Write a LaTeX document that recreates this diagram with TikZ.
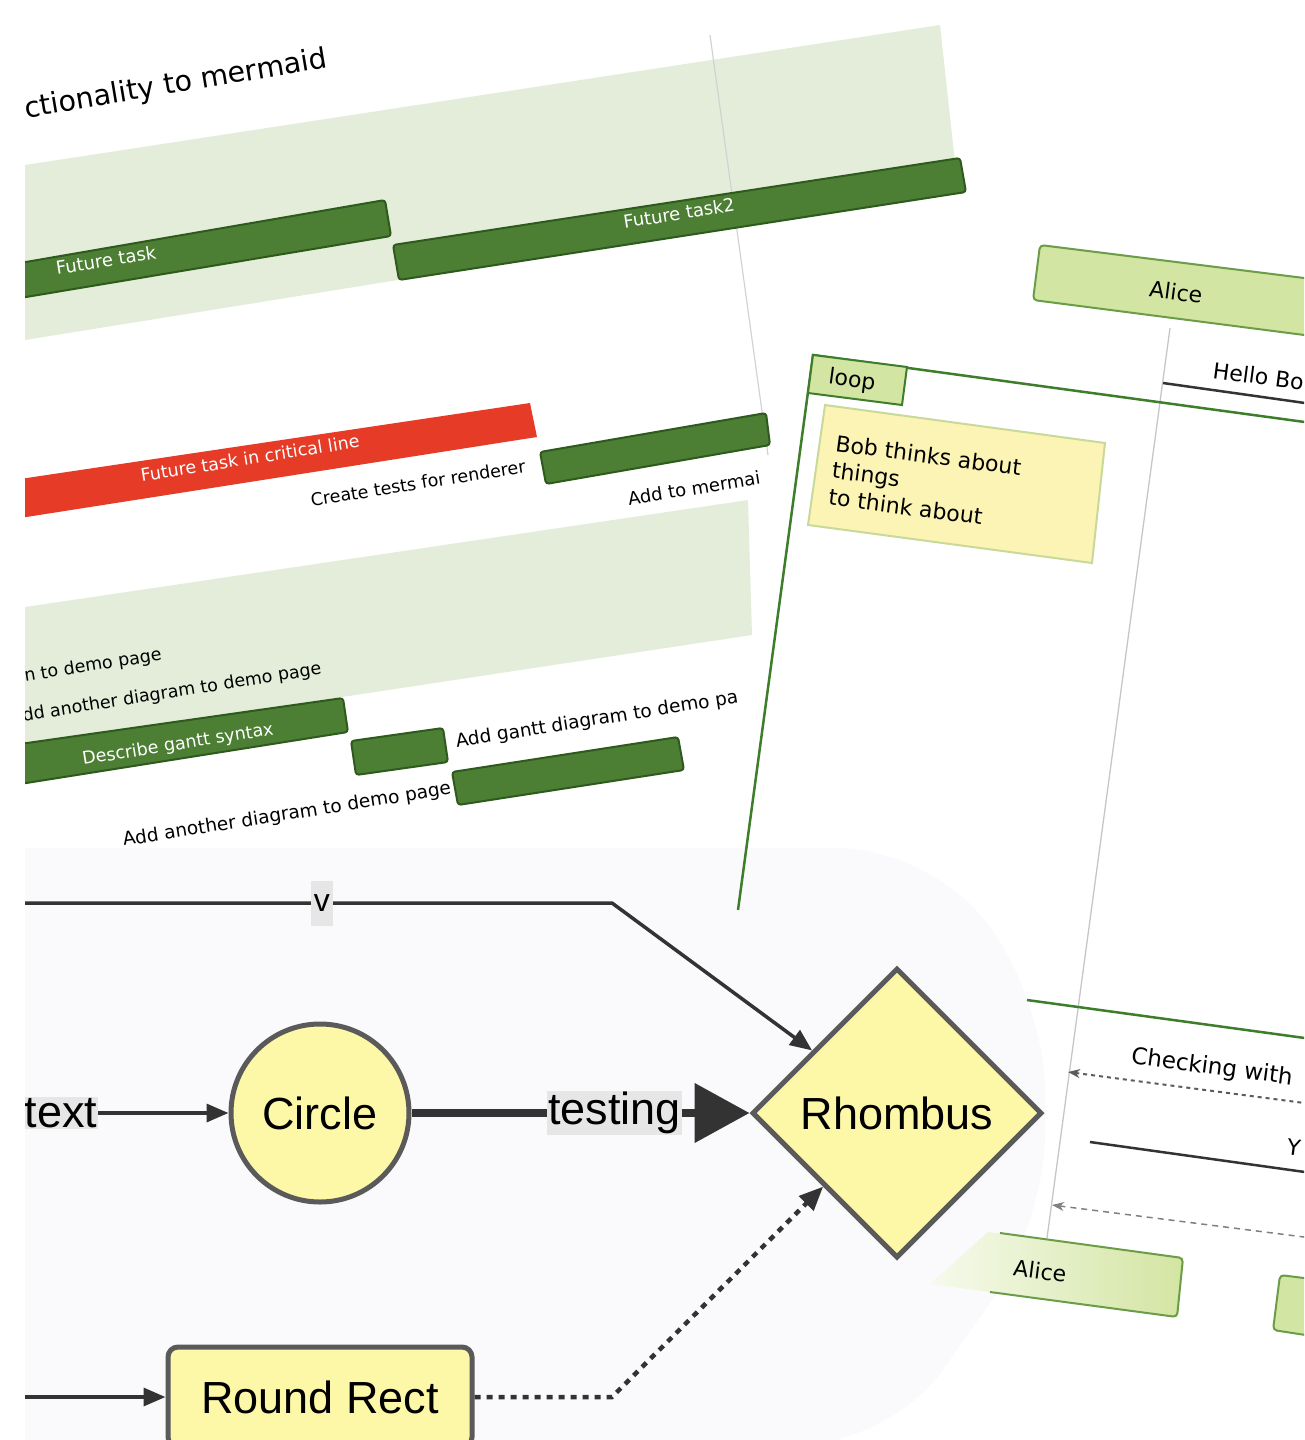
\documentclass[tikz,border=0pt]{standalone}
\usepackage{fontspec}
\setmainfont{DejaVu Sans}
\newfontfamily\fcfont{Liberation Sans}
\usetikzlibrary{arrows.meta,shapes.geometric}
\definecolor{bandgreen}{HTML}{E3EDD9}
\definecolor{bargreen}{HTML}{4C7E34}
\definecolor{barborder}{HTML}{2E5A1E}
\definecolor{critred}{HTML}{E63B26}
\definecolor{actorfill}{HTML}{D3E5A2}
\definecolor{actorborder}{HTML}{6B9C47}
\definecolor{notefill}{HTML}{FBF4B4}
\definecolor{noteborder}{HTML}{C8D99A}
\definecolor{loopgreen}{HTML}{3D7D2B}
\definecolor{fcyellow}{HTML}{FDF7A8}
\definecolor{fcborder}{HTML}{5A5A5A}
\definecolor{lblgrey}{HTML}{E6E6E6}
\definecolor{fcbg}{HTML}{FAFAFC}
\definecolor{edgedark}{HTML}{333333}
\begin{document}
\begin{tikzpicture}[x=1pt,y=-1pt,
  gtxt/.style={font=\fontsize{17.5}{20}\selectfont, rotate=9, inner sep=0pt},
  gwtxt/.style={gtxt, text=white},
  gbar/.style={fill=bargreen, draw=barborder, line width=2pt, rounded corners=3pt},
  stxt/.style={font=\fontsize{22}{27}\selectfont, rotate=-7.5, inner sep=0pt},
  actorbox/.style={fill=actorfill, draw=actorborder, line width=2pt, rounded corners=4pt},
  fcnode/.style={draw=fcborder, line width=5pt, fill=fcyellow, text=black,
    font=\fcfont\fontsize{45}{50}\selectfont},
  lbl/.style={fill=lblgrey, text=black, inner sep=1pt, font=\fcfont\fontsize{45}{50}\selectfont},
  fcedge/.style={draw=edgedark, line width=3.5pt, -{Triangle[length=22pt,width=18pt]}},
  fcdotted/.style={draw=edgedark, line width=4.5pt, dash pattern=on 6pt off 6pt,
    -{Triangle[length=24pt,width=20pt]}},
  seqarrow/.style={draw=edgedark!80, line width=2pt, {Stealth[length=12pt,width=9pt]}-}
]
\useasboundingbox (0,0) rectangle (1304,1440);
\clip (25,0) rectangle (1304,1440);

% ---------------- Gantt panel ----------------
\node[font=\fontsize{28.5}{32}\selectfont, rotate=9.5, inner sep=0pt] (title) at (176,85) {ctionality to mermaid};
\fill[bandgreen] (25,165) -- (940,25) -- (958,190) -- (25,340) -- cycle;
\draw[gray!35, line width=1.2pt] (710,35) -- (768,455);
\draw[gbar] (20,263) -- (385,200) -- (391,236) -- (20,298) -- cycle;
\node[gwtxt, font=\fontsize{18}{20}\selectfont] (ft1) at (106,260) {Future task};
\draw[gbar] (393,245) -- (960,158) -- (966,192) -- (399,280) -- cycle;
\node[gwtxt, font=\fontsize{18}{20}\selectfont] (ft2) at (679,213) {Future task2};

\fill[critred] (20,479) -- (530,403) -- (537,437) -- (20,518) -- cycle;
\node[gwtxt, font=\fontsize{17.5}{20}\selectfont] (crit) at (250,458) {Future task in critical line};
\node[gtxt] (ctr) at (418,483) {Create tests for renderer};
\draw[gbar] (540,452) -- (766,413) -- (770,445) -- (546,484) -- cycle;
\node[gtxt, font=\fontsize{18}{20}\selectfont] (atm) at (694,488) {Add to mermai};

\fill[bandgreen] (25,607) -- (748,500) -- (752,635) -- (25,745) -- cycle;
\node[gtxt] (tdp) at (93,666) {n to demo page};
\node[gtxt] (aad) at (172,693) {dd another diagram to demo page};
\draw[gbar] (20,744) -- (343,698) -- (348,732) -- (20,784) -- cycle;
\node[gwtxt] (dgs) at (178,745) {Describe gantt syntax};
\draw[gbar] (351,741) -- (443,728) -- (448,762) -- (356,775) -- cycle;
\node[gtxt, font=\fontsize{18.5}{20}\selectfont] (agd) at (597,720) {Add gantt diagram to demo pa};
\draw[gbar] (452,772) -- (678,737) -- (684,770) -- (458,805) -- cycle;
\node[gtxt, font=\fontsize{18.5}{20}\selectfont] (aad2) at (287,815) {Add another diagram to demo page};

% ---------------- Flowchart background ----------------
\fill[fcbg, rounded corners=90pt] (-200,848) -- (930,848) -- (1045,1000) -- (1045,1225) -- (890,1445) -- (-200,1445) -- cycle;

% ---------------- Sequence panel ----------------
\draw[actorbox] (1040,245) -- (1312,279) -- (1312,336) -- (1033,300) -- cycle;
\node[stxt] (aliceT) at (1176,292) {Alice};
\coordinate (lifeTop) at (1170,328);
\coordinate (lifeBot) at (1047,1238);
\draw[gray!45, line width=1.3pt] (lifeTop) -- (lifeBot);

\coordinate (loopBL) at (738,910);
\coordinate (loopTL) at (813,355);
\coordinate (loopTR) at (1312,423);
\draw[loopgreen, line width=2.5pt] (loopBL) -- (loopTL) -- (loopTR);
\draw[fill=actorfill, draw=loopgreen, line width=2pt] (813,355) -- (907,367) -- (902,405) -- (808,393) -- cycle;
\node[stxt] (loopl) at (852,381) {loop};
\draw[fill=notefill, draw=noteborder, line width=2pt] (825,405) -- (1105,443) -- (1092,563) -- (808,525) -- cycle;
\node[stxt, align=left] (note) at (925,482) {Bob thinks about\\things\\to think about};

\node[stxt, anchor=west] (hello) at (1213,370) {Hello Bo};
\coordinate (h1) at (1163,383);
\coordinate (h2) at (1312,404);
\draw[edgedark, line width=2.5pt] (h1) -- (h2);

\coordinate (lb1) at (1027,1000);
\coordinate (lb2) at (1312,1039);
\draw[loopgreen, line width=2.5pt] (lb1) -- (lb2);
\node[stxt, font=\fontsize{23}{27}\selectfont] (check) at (1212,1068) {Checking with};
\coordinate (c1) at (1068,1072);
\coordinate (c2) at (1312,1104);
\draw[seqarrow, dash pattern=on 4pt off 4pt] (c1) -- (c2);
\coordinate (y1) at (1090,1142);
\coordinate (y2) at (1312,1173);
\draw[edgedark, line width=2.5pt] (y1) -- (y2);
\node[stxt, anchor=west] (ytxt) at (1287,1147) {Y};
\coordinate (d1) at (1052,1205);
\coordinate (d2) at (1312,1238);
\draw[seqarrow, draw=gray, line width=1.5pt, dash pattern=on 6pt off 5pt] (d1) -- (d2);

\path[left color=actorfill!20, right color=actorfill] (988,1232) -- (1183,1258) -- (1177,1317) -- (930,1284) -- cycle;
\draw[actorborder, line width=2pt, rounded corners=4pt] (1000,1233) -- (1183,1258) -- (1177,1317) -- (990,1292);
\node[stxt] (aliceB) at (1040,1271) {Alice};
\draw[actorbox] (1280,1275) -- (1312,1279) -- (1312,1336) -- (1273,1330) -- cycle;

% ---------------- Flowchart ----------------
\node[fcnode, circle, minimum size=178pt, inner sep=0pt] (circ) at (320,1113) {Circle};
\node[fcnode, diamond, aspect=1, minimum width=290pt, minimum height=290pt, inner sep=0pt] (rhomb) at (897,1113) {Rhombus};
\node[fcnode, rounded corners=10pt, minimum width=304pt, minimum height=100pt] (rrect) at (320,1397) {Round Rect};
\node[lbl] (tlbl) at (61,1113) {text};
\coordinate (vstart) at (20,903);
\coordinate (vbend) at (612,903);
\coordinate (rstart) at (20,1397);
\coordinate (dbend) at (612,1397);

\draw[fcedge] (vstart) -- node[lbl, pos=0.51, font=\fcfont\fontsize{32}{36}\selectfont, inner xsep=3pt, minimum height=45pt] (vlbl) {v} (vbend) -- (rhomb);
\draw[fcedge] (tlbl) -- (circ);
\draw[draw=edgedark, line width=8pt, -{Triangle[length=55pt,width=58pt]}] (circ) -- node[lbl, pos=0.6] (tst) {testing} (rhomb);
\draw[fcedge] (rstart) -- (rrect);
\draw[fcdotted] (rrect) -- (dbend) -- (rhomb);
\end{tikzpicture}
\end{document}
